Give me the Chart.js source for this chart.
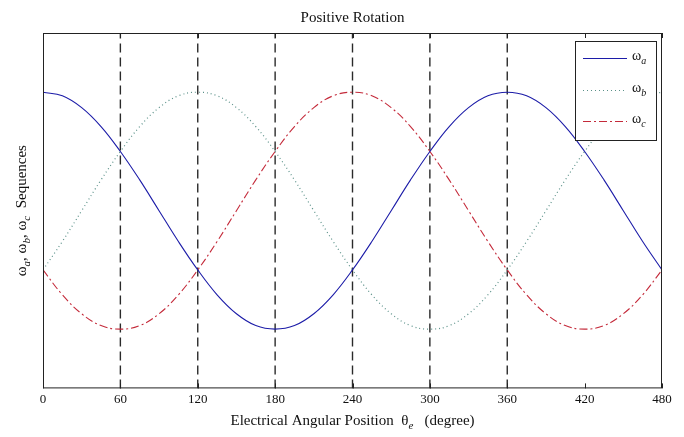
<!DOCTYPE html>
<html>
<head>
<meta charset="utf-8">
<script src="https://cdn.jsdelivr.net/npm/chart.js@4.4.1/dist/chart.umd.min.js"></script>
<style>
  html, body { margin: 0; padding: 0; background: #fff; }
  #wrap { width: 684px; height: 437px; }
</style>
</head>
<body>
<div id="wrap"><canvas id="chart" width="684" height="437"></canvas></div>
<script>
// electrical angle, degrees
const angles = [0, 15, 30, 45, 60, 75, 90, 105, 120, 135, 150, 165, 180, 195, 210, 225, 240,
  255, 270, 285, 300, 315, 330, 345, 360, 375, 390, 405, 420, 435, 450, 465, 480];

// phase sequences
const omegaA = [1, 0.97, 0.87, 0.71, 0.5, 0.26, 0, -0.26, -0.5, -0.71, -0.87, -0.97, -1, -0.97, -0.87, -0.71, -0.5,
  -0.26, 0, 0.26, 0.5, 0.71, 0.87, 0.97, 1, 0.97, 0.87, 0.71, 0.5, 0.26, 0, -0.26, -0.5];
const omegaB = [-0.5, -0.26, 0, 0.26, 0.5, 0.71, 0.87, 0.97, 1, 0.97, 0.87, 0.71, 0.5, 0.26, 0, -0.26, -0.5,
  -0.71, -0.87, -0.97, -1, -0.97, -0.87, -0.71, -0.5, -0.26, 0, 0.26, 0.5, 0.71, 0.87, 0.97, 1];
const omegaC = [-0.5, -0.71, -0.87, -0.97, -1, -0.97, -0.87, -0.71, -0.5, -0.26, 0, 0.26, 0.5, 0.71, 0.87, 0.97, 1,
  0.97, 0.87, 0.71, 0.5, 0.26, 0, -0.26, -0.5, -0.71, -0.87, -0.97, -1, -0.97, -0.87, -0.71, -0.5];

// switching instants marked with dashed lines
const markers = [60, 120, 180, 240, 300, 360];
const xTicks = [0, 60, 120, 180, 240, 300, 360, 420, 480];

const Y_MIN = -1.5;
const Y_MAX = 1.5;
const SERIF = `"Liberation Serif", "DejaVu Serif", serif`;

const toPoints = (ys) => angles.map((x, i) => ({x, y: ys[i]}));

const curves = [
  {name: `a`, values: omegaA, color: `#1c1ca8`, dash: [], width: 1.1},
  {name: `b`, values: omegaB, color: `#5a9088`, dash: [1, 3], width: 1.2},
  {name: `c`, values: omegaC, color: `#c42a3a`, dash: [8, 3, 2, 3], width: 1.1}
];

const datasets = curves.map((c) => ({
  label: `ω${c.name}`,
  data: toPoints(c.values),
  borderColor: c.color,
  borderDash: c.dash,
  borderWidth: c.width,
  pointRadius: 0,
  tension: 0.4,
  fill: false
}));

markers.forEach((m) => {
  datasets.push({
    label: `marker ${m}`,
    data: [{x: m, y: Y_MIN}, {x: m, y: Y_MAX}],
    borderColor: `#2a2a2a`,
    borderDash: [9, 5],
    borderWidth: 1.4,
    pointRadius: 0,
    tension: 0
  });
});

// text with a subscript, returns the x after drawing
const drawSub = (ctx, x, y, main, sub, size, subItalic) => {
  ctx.font = `${size}px ${SERIF}`;
  ctx.fillText(main, x, y);
  x += ctx.measureText(main).width;
  ctx.font = `${subItalic ? `italic ` : ``}${Math.round(size * 0.7)}px ${SERIF}`;
  ctx.fillText(sub, x, y + size * 0.35);
  return x + ctx.measureText(sub).width;
};

const framePlugin = {
  id: `frame`,
  afterDraw(chart) {
    const {ctx, chartArea: area, scales} = chart;
    const xs = scales.x;
    ctx.save();

    // box round the plot
    ctx.strokeStyle = `#222`;
    ctx.lineWidth = 1;
    ctx.strokeRect(area.left + 0.5, area.top + 0.5, area.right - area.left - 1, area.bottom - area.top - 1);

    // inward ticks, top and bottom
    ctx.beginPath();
    xTicks.forEach((t) => {
      const px = Math.round(xs.getPixelForValue(t)) + 0.5;
      ctx.moveTo(px, area.bottom);
      ctx.lineTo(px, area.bottom - 5);
      ctx.moveTo(px, area.top);
      ctx.lineTo(px, area.top + 5);
    });
    ctx.stroke();

    ctx.fillStyle = `#111`;
    ctx.textBaseline = `middle`;

    // x axis title
    const size = 15;
    const head = `Electrical Angular Position  `;
    const tail = `   (degree)`;
    ctx.font = `${size}px ${SERIF}`;
    const wHead = ctx.measureText(head).width;
    const wTheta = ctx.measureText(`θ`).width;
    const wTail = ctx.measureText(tail).width;
    ctx.font = `${Math.round(size * 0.7)}px ${SERIF}`;
    const wSub = ctx.measureText(`e`).width;
    let x = (area.left + area.right) / 2 - (wHead + wTheta + wSub + wTail) / 2;
    const y = 421;
    ctx.font = `${size}px ${SERIF}`;
    ctx.textAlign = `left`;
    ctx.fillText(head, x, y);
    x += wHead;
    x = drawSub(ctx, x, y, `θ`, `e`, size, true);
    ctx.font = `${size}px ${SERIF}`;
    ctx.fillText(tail, x, y);

    // y axis title, rotated
    ctx.save();
    ctx.translate(22, (area.top + area.bottom) / 2);
    ctx.rotate(-Math.PI / 2);
    const parts = [[`ω`, `a`, `, `], [`ω`, `b`, `, `], [`ω`, `c`, `  Sequences`]];
    let total = 0;
    parts.forEach(([m, s, t]) => {
      ctx.font = `${size}px ${SERIF}`;
      total += ctx.measureText(m).width + ctx.measureText(t).width;
      ctx.font = `italic ${Math.round(size * 0.7)}px ${SERIF}`;
      total += ctx.measureText(s).width;
    });
    let yx = -total / 2;
    parts.forEach(([m, s, t]) => {
      yx = drawSub(ctx, yx, 0, m, s, size, true);
      ctx.font = `${size}px ${SERIF}`;
      ctx.fillText(t, yx, 0);
      yx += ctx.measureText(t).width;
    });
    ctx.restore();

    // legend box in the top right corner
    const lg = {left: 575, top: 41, right: 656, bottom: 140};
    ctx.fillStyle = `#fff`;
    ctx.fillRect(lg.left, lg.top, lg.right - lg.left, lg.bottom - lg.top);
    ctx.strokeStyle = `#222`;
    ctx.lineWidth = 1;
    ctx.setLineDash([]);
    ctx.strokeRect(lg.left + 0.5, lg.top + 0.5, lg.right - lg.left, lg.bottom - lg.top);
    const rows = [58, 90, 121];
    curves.forEach((c, i) => {
      const ry = rows[i];
      ctx.strokeStyle = c.color;
      ctx.lineWidth = c.width;
      ctx.setLineDash(c.dash);
      ctx.beginPath();
      ctx.moveTo(583, ry + 0.5);
      ctx.lineTo(627, ry + 0.5);
      ctx.stroke();
      ctx.setLineDash([]);
      ctx.fillStyle = `#111`;
      drawSub(ctx, 632, ry - 2, `ω`, c.name, 14, true);
    });

    ctx.restore();
  }
};

new Chart(document.getElementById(`chart`), {
  type: `line`,
  data: {datasets},
  plugins: [framePlugin],
  options: {
    responsive: false,
    animation: false,
    layout: {
      padding: {left: 43, right: 22, top: 0, bottom: 27}
    },
    plugins: {
      legend: {display: false},
      tooltip: {enabled: false},
      title: {
        display: true,
        text: `Positive Rotation`,
        color: `#111`,
        font: {family: SERIF, size: 15, weight: `normal`},
        padding: {top: 9, bottom: 6}
      }
    },
    scales: {
      x: {
        type: `linear`,
        min: 0,
        max: 480,
        grid: {display: false, drawTicks: false},
        border: {display: false},
        afterBuildTicks: (scale) => {
          scale.ticks = xTicks.map((v) => ({value: v}));
        },
        ticks: {
          color: `#111`,
          padding: 3,
          maxRotation: 0,
          font: {family: SERIF, size: 13}
        }
      },
      y: {
        display: false,
        min: Y_MIN,
        max: Y_MAX
      }
    }
  }
});
</script>
</body>
</html>
